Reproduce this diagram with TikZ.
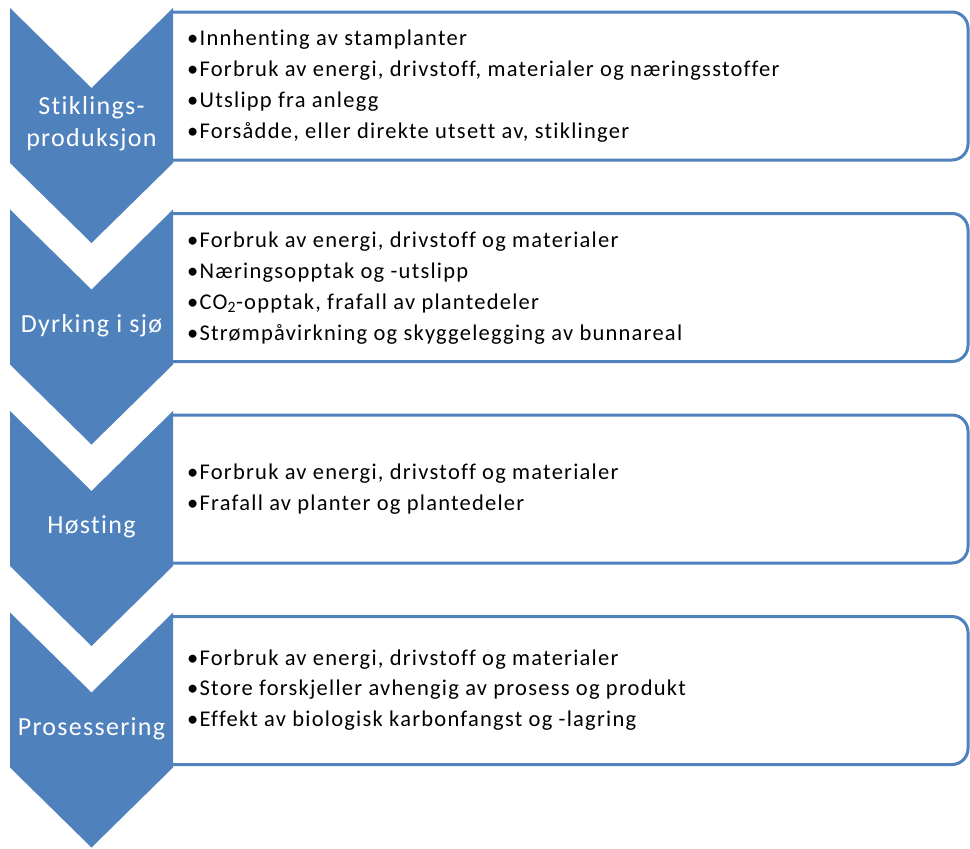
\documentclass[tikz,border=0pt]{standalone}
\usepackage{fontspec}
\setmainfont{Carlito}[Ligatures=NoCommon]
\newfontfamily\spacedfont{Carlito}[Ligatures=NoCommon, LetterSpace=5]
\newfontfamily\boxfont{Carlito}[Ligatures=NoCommon, LetterSpace=5.5]
\definecolor{chevblue}{HTML}{4F81BD}
\begin{document}
\begin{tikzpicture}[x=1pt,y=-1pt,
  chev/.style={fill=chevblue, draw=none},
  infobox/.style={fill=white, draw=chevblue, line width=3pt},
  chevlabel/.style={text=white, align=center, inner sep=0pt, font=\spacedfont\fontsize{26}{32}\selectfont},
  boxtext/.style={anchor=west, align=left, inner sep=0pt, text=black, font=\boxfont\fontsize{22.5}{30.8}\selectfont}]
\fill[white] (0,0) rectangle (970,849);
\useasboundingbox (0,0) rectangle (970,849);
\foreach \k in {0,1,2,3}{
  \pgfmathsetmacro{\T}{8+201.5*\k}
  \pgfmathsetmacro{\B}{12+201.5*\k}
  \draw[infobox] (173,\B) -- (952,\B) arc[start angle=-90,end angle=0,radius=16] -- (968,\B+132) arc[start angle=0,end angle=90,radius=16] -- (173,\B+148);
  \path[chev] (10,\T) -- (91.5,\T+80) -- (173,\T) -- (173,\T+155) -- (91.5,\T+235) -- (10,\T+155) -- cycle;
}
\node[chevlabel] (l1) at (91.5,124) {Stiklings-\\produksjon};
\node[chevlabel] (l2) at (91.5,326) {Dyrking i sjø};
\node[chevlabel] (l3) at (91.5,527) {Høsting};
\node[chevlabel] (l4) at (91.5,729) {Prosessering};
\node[boxtext] (t1) at (187,86) {•Innhenting av stamplanter\\•Forbruk av energi, drivstoff, materialer og næringsstoffer\\•Utslipp fra anlegg\\•Forsådde, eller direkte utsett av, stiklinger};
\node[boxtext] (t2) at (187,288) {•Forbruk av energi, drivstoff og materialer\\•Næringsopptak og -utslipp\\•CO\textsubscript{2}-opptak, frafall av plantedeler\\•Strømpåvirkning og skyggelegging av bunnareal};
\node[boxtext] (t3) at (187,489) {•Forbruk av energi, drivstoff og materialer\\•Frafall av planter og plantedeler};
\node[boxtext] (t4) at (187,690) {•Forbruk av energi, drivstoff og materialer\\•Store forskjeller avhengig av prosess og produkt\\•Effekt av biologisk karbonfangst og -lagring};
\end{tikzpicture}
\end{document}
